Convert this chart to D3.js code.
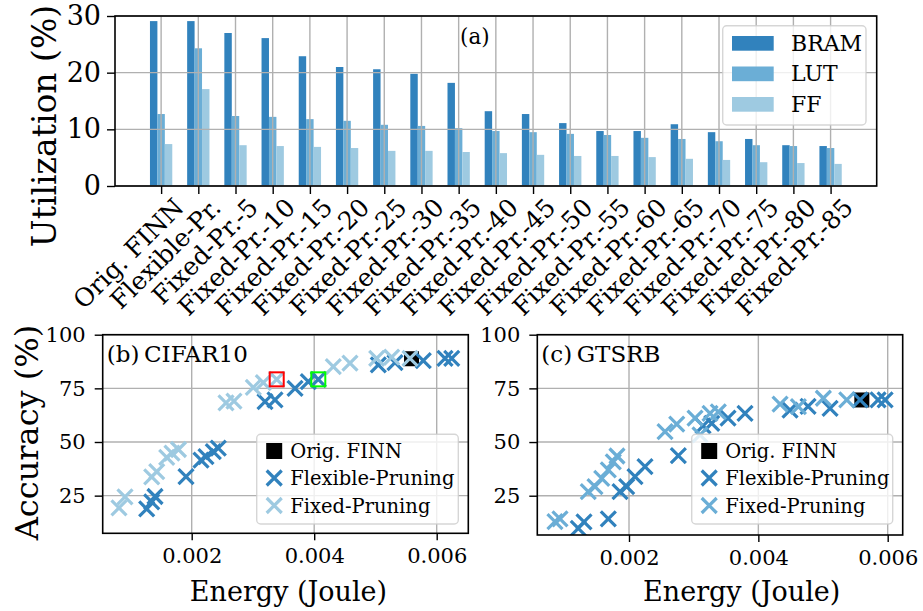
<!DOCTYPE html>
<html>
<head>
<meta charset="utf-8">
<script src="https://cdn.jsdelivr.net/npm/d3@7"></script>
<style>
body { margin: 0; background: #fff; }
</style>
</head>
<body>
<svg id="chart" width="923" height="611"></svg>
<script>
// ---- data ----
var categories = ["Orig. FINN", "Flexible-Pr.", "Fixed-Pr.-5", "Fixed-Pr.-10", "Fixed-Pr.-15",
	"Fixed-Pr.-20", "Fixed-Pr.-25", "Fixed-Pr.-30", "Fixed-Pr.-35", "Fixed-Pr.-40", "Fixed-Pr.-45",
	"Fixed-Pr.-50", "Fixed-Pr.-55", "Fixed-Pr.-60", "Fixed-Pr.-65", "Fixed-Pr.-70", "Fixed-Pr.-75",
	"Fixed-Pr.-80", "Fixed-Pr.-85"];
var bram = [29.1, 29.1, 27.0, 26.1, 22.9, 21.0, 20.6, 19.8, 18.2, 13.2, 12.7, 11.1, 9.7, 9.7, 10.9, 9.5, 8.3, 7.2, 7.05];
var lut = [12.7, 24.3, 12.35, 12.2, 11.8, 11.5, 10.8, 10.6, 10.2, 9.7, 9.5, 9.2, 9.0, 8.5, 8.3, 7.9, 7.2, 7.05, 6.7];
var ff = [7.4, 17.1, 7.2, 7.05, 6.9, 6.7, 6.2, 6.2, 6.0, 5.8, 5.5, 5.3, 5.3, 5.1, 4.8, 4.6, 4.2, 4.05, 3.9];
var utilTicks = [0, 10, 20, 30];

var cifarFlexE = [0.001265, 0.001347, 0.001401, 0.001907, 0.002152, 0.002233, 0.002353, 0.002434, 0.003197,
	0.00336, 0.003687, 0.003904, 0.004067, 0.005047, 0.005319, 0.005781, 0.006136, 0.006245];
var cifarFlexAcc = [18.8, 22.1, 24.6, 33.9, 41.6, 43.2, 45.5, 47.1, 68.8, 69.6, 75.0, 78.1, 79.2, 85.9, 87.0, 87.9, 89.0, 89.0];
var cifarFixE = [0.000813, 0.000911, 0.001347, 0.001429, 0.001592, 0.001678, 0.001784, 0.00256, 0.00269,
	0.003006, 0.003169, 0.003388, 0.004312, 0.004584, 0.00502, 0.005265, 0.005564];
var cifarFixAcc = [19.3, 24.4, 33.7, 36.2, 42.8, 44.8, 46.5, 68.2, 69.1, 75.4, 77.7, 79.2, 85.1, 86.7, 89.0, 89.5, 89.0];
var cifarOrig = [0.005589, 88.8];
var cifarRedBox = [0.003388, 79.2];
var cifarGreenBox = [0.004067, 79.2];

var gtsrbFlexE = [0.001216, 0.001304, 0.00168, 0.001861, 0.001964, 0.002093, 0.002247, 0.002763, 0.003145,
	0.003279, 0.003531, 0.003794, 0.00449, 0.004769, 0.005109, 0.005573, 0.005851, 0.00596];
var gtsrbFlexAcc = [9.8, 12.8, 14.2, 26.9, 29.2, 33.9, 38.5, 43.7, 57.5, 58.7, 61.1, 63.4, 64.9, 66.6, 65.7, 69.6, 69.6, 69.6];
var gtsrbFixE = [0.000855, 0.000933, 0.00137, 0.001474, 0.001578, 0.00168, 0.001757, 0.001814, 0.002557,
	0.002738, 0.003021, 0.003253, 0.003381, 0.003098, 0.004336, 0.004619, 0.005005, 0.005367];
var gtsrbFixAcc = [12.9, 14.2, 26.9, 29.2, 33.1, 37.0, 40.8, 43.5, 54.8, 58.4, 61.1, 63.4, 64.1, 53.3, 67.7, 66.5, 70.4, 69.6];
var gtsrbOrig = [0.0056, 69.6];

var energyTicks = [0.002, 0.004, 0.006];
var accTicks = [25, 50, 75, 100];

var cBram = "#3182bd", cLut = "#6baed6", cFf = "#9ecae1";
var gridColor = "#b0b0b0";
var FONT = "'DejaVu Serif'";

var svg = d3.select("#chart");
svg.append("rect").attr("width", 923).attr("height", 611).attr("fill", "#fff");

function label(g) {
	return g.append("text").attr("font-family", FONT).attr("fill", "#000");
}

// ---------------- (a) bar chart ----------------
var x = d3.scaleLinear().domain([-1.24, 19.24]).range([115, 876.7]);
var y = d3.scaleLinear().domain([0, 30]).range([186, 16]);
var bw = x(0.2) - x(0);
var pa = svg.append("g");

var series = [[bram, cBram, -0.2], [lut, cLut, 0], [ff, cFf, 0.2]];
series.forEach(function(s) {
	pa.selectAll(null)
		.data(s[0])
		.enter().append("rect")
		.attr("x", function(d, i) { return x(i + s[2]) - bw / 2; })
		.attr("y", function(d) { return y(d); })
		.attr("width", bw)
		.attr("height", function(d) { return y(0) - y(d); })
		.attr("fill", s[1]);
});

// grid above bars, like matplotlib
pa.selectAll(null).data(d3.range(categories.length)).enter().append("line")
	.attr("x1", function(d) { return x(d); }).attr("x2", function(d) { return x(d); })
	.attr("y1", 16).attr("y2", 186)
	.attr("stroke", gridColor).attr("stroke-width", 1.4);
pa.selectAll(null).data(utilTicks).enter().append("line")
	.attr("x1", 115).attr("x2", 876.7)
	.attr("y1", function(d) { return y(d); }).attr("y2", function(d) { return y(d); })
	.attr("stroke", gridColor).attr("stroke-width", 1.4);

pa.append("rect").attr("x", 115).attr("y", 16).attr("width", 876.7 - 115).attr("height", 170)
	.attr("fill", "none").attr("stroke", "#000").attr("stroke-width", 1.6);

var ya = pa.append("g").attr("transform", "translate(115,0)")
	.call(d3.axisLeft(y).tickValues(utilTicks).tickSize(8).tickPadding(6));
ya.select(".domain").remove();
ya.selectAll("line").attr("stroke-width", 1.4);
ya.selectAll("text").attr("font-family", FONT).attr("font-size", 27);

var xa = pa.append("g").attr("transform", "translate(0,186)")
	.call(d3.axisBottom(x).tickValues(d3.range(categories.length)).tickSize(8).tickFormat(""));
xa.select(".domain").remove();
xa.selectAll("line").attr("stroke-width", 1.4);
pa.selectAll(null).data(categories).enter().append("text")
	.attr("font-family", FONT)
	.attr("transform", function(d, i) { return "translate(" + (x(i) + 24) + ",209) rotate(-45)"; })
	.attr("text-anchor", "end")
	.attr("font-size", 25)
	.text(function(d) { return d; });

label(pa)
	.attr("transform", "translate(56,126) rotate(-90)")
	.attr("text-anchor", "middle")
	.attr("font-size", 33)
	.text("Utilization (%)");

label(pa).attr("x", 460).attr("y", 44).attr("font-size", 21.5).text("(a)");

var lg = pa.append("g");
lg.append("rect").attr("x", 722.7).attr("y", 25.7).attr("width", 143.3).attr("height", 99.3)
	.attr("rx", 4).attr("fill", "rgba(255,255,255,0.8)").attr("stroke", "rgba(204,204,204,0.8)").attr("stroke-width", 1.4);
[["BRAM", cBram], ["LUT", cLut], ["FF", cFf]].forEach(function(e, i) {
	var yy = 36 + i * 30.5;
	lg.append("rect").attr("x", 732).attr("y", yy).attr("width", 41.7).attr("height", 14.7).attr("fill", e[1]);
	label(lg).attr("x", 791).attr("y", yy + 14.7).attr("font-size", 22).text(e[0]);
});

// ---------------- (b), (c) scatter panels ----------------
function cross(g, px, py, color) {
	g.append("path")
		.attr("d", "M-7.5,-7.5L7.5,7.5M-7.5,7.5L7.5,-7.5")
		.attr("transform", "translate(" + px + "," + py + ")")
		.attr("stroke", color).attr("stroke-width", 3.2).attr("fill", "none");
}

function panel(o) {
	var sx = d3.scaleLinear().domain(o.xd).range([o.x0, o.x1]);
	var sy = d3.scaleLinear().domain(o.yd).range([o.y1, o.y0]);
	var g = svg.append("g");
	var clipId = "clip" + o.id;
	g.append("clipPath").attr("id", clipId).append("rect")
		.attr("x", o.x0).attr("y", o.y0).attr("width", o.x1 - o.x0).attr("height", o.y1 - o.y0);

	g.selectAll(null).data(energyTicks).enter().append("line")
		.attr("x1", function(d) { return sx(d); }).attr("x2", function(d) { return sx(d); })
		.attr("y1", o.y0).attr("y2", o.y1).attr("stroke", gridColor).attr("stroke-width", 1.4);
	g.selectAll(null).data(accTicks).enter().append("line")
		.attr("x1", o.x0).attr("x2", o.x1)
		.attr("y1", function(d) { return sy(d); }).attr("y2", function(d) { return sy(d); })
		.attr("stroke", gridColor).attr("stroke-width", 1.4);

	var m = g.append("g").attr("clip-path", "url(#" + clipId + ")");
	m.append("rect")
		.attr("x", sx(o.orig[0]) - 7.5).attr("y", sy(o.orig[1]) - 7.5)
		.attr("width", 15).attr("height", 15).attr("fill", "#000");
	o.flexE.forEach(function(e, i) { cross(m, sx(e), sy(o.flexAcc[i]), cBram); });
	o.fixE.forEach(function(e, i) { cross(m, sx(e), sy(o.fixAcc[i]), o.fixColor); });
	(o.boxes || []).forEach(function(b) {
		m.append("rect")
			.attr("x", sx(b[0]) - 7).attr("y", sy(b[1]) - 7)
			.attr("width", 14).attr("height", 14)
			.attr("fill", "none").attr("stroke", b[2]).attr("stroke-width", 2);
	});

	g.append("rect").attr("x", o.x0).attr("y", o.y0).attr("width", o.x1 - o.x0).attr("height", o.y1 - o.y0)
		.attr("fill", "none").attr("stroke", "#000").attr("stroke-width", 1.6);

	var ax = g.append("g").attr("transform", "translate(0," + o.y1 + ")")
		.call(d3.axisBottom(sx).tickValues(energyTicks).tickSize(7).tickPadding(8).tickFormat(d3.format(".3f")));
	ax.select(".domain").remove();
	ax.selectAll("line").attr("stroke-width", 1.4);
	ax.selectAll("text").attr("font-family", FONT).attr("font-size", 21);

	var ay = g.append("g").attr("transform", "translate(" + o.x0 + ",0)")
		.call(d3.axisLeft(sy).tickValues(accTicks).tickSize(8).tickPadding(9));
	ay.select(".domain").remove();
	ay.selectAll("line").attr("stroke-width", 1.4);
	ay.selectAll("text").attr("font-family", FONT).attr("font-size", 21);

	label(g).attr("x", o.labelX).attr("y", 601).attr("text-anchor", "middle")
		.attr("font-size", 27).text("Energy (Joule)");
	label(g).attr("x", o.x0 + 4).attr("y", 362).attr("font-size", 23).text(o.title);

	var l = g.append("g");
	l.append("rect").attr("x", o.lx).attr("y", 434.3).attr("width", o.lw).attr("height", 89.7)
		.attr("rx", 4).attr("fill", "rgba(255,255,255,0.8)").attr("stroke", "rgba(204,204,204,0.8)").attr("stroke-width", 1.4);
	var mx = o.lx + 17.5;
	l.append("rect").attr("x", mx - 8).attr("y", 451 - 8).attr("width", 16).attr("height", 16).attr("fill", "#000");
	cross(l, mx, 478, cBram);
	cross(l, mx, 505.5, o.fixColor);
	[["Orig. FINN", 451], ["Flexible-Pruning", 478], ["Fixed-Pruning", 505.5]].forEach(function(e) {
		label(l).attr("x", mx + 16).attr("y", e[1] + 7).attr("font-size", 19.5).text(e[0]);
	});
}

panel({
	id: "b", x0: 102.7, x1: 468.3, y0: 334.7, y1: 533.3,
	xd: [0.000547, 0.006516], yd: [7.45, 100],
	flexE: cifarFlexE, flexAcc: cifarFlexAcc, fixE: cifarFixE, fixAcc: cifarFixAcc,
	orig: cifarOrig, fixColor: cFf,
	boxes: [[cifarRedBox[0], cifarRedBox[1], "#ff0000"], [cifarGreenBox[0], cifarGreenBox[1], "#00ff00"]],
	title: "(b)\u2009CIFAR10", labelX: 288.5, lx: 256.7, lw: 201.6
});

panel({
	id: "c", x0: 537.3, x1: 902.7, y0: 334.7, y1: 535,
	xd: [0.000582, 0.006232], yd: [6.7, 100],
	flexE: gtsrbFlexE, flexAcc: gtsrbFlexAcc, fixE: gtsrbFixE, fixAcc: gtsrbFixAcc,
	orig: gtsrbOrig, fixColor: cLut,
	title: "(c)\u2009GTSRB", labelX: 741.7, lx: 691.7, lw: 201
});

label(svg)
	.attr("transform", "translate(38,432.5) rotate(-90)")
	.attr("text-anchor", "middle")
	.attr("font-size", 32)
	.text("Accuracy (%)");
</script>
</body>
</html>
